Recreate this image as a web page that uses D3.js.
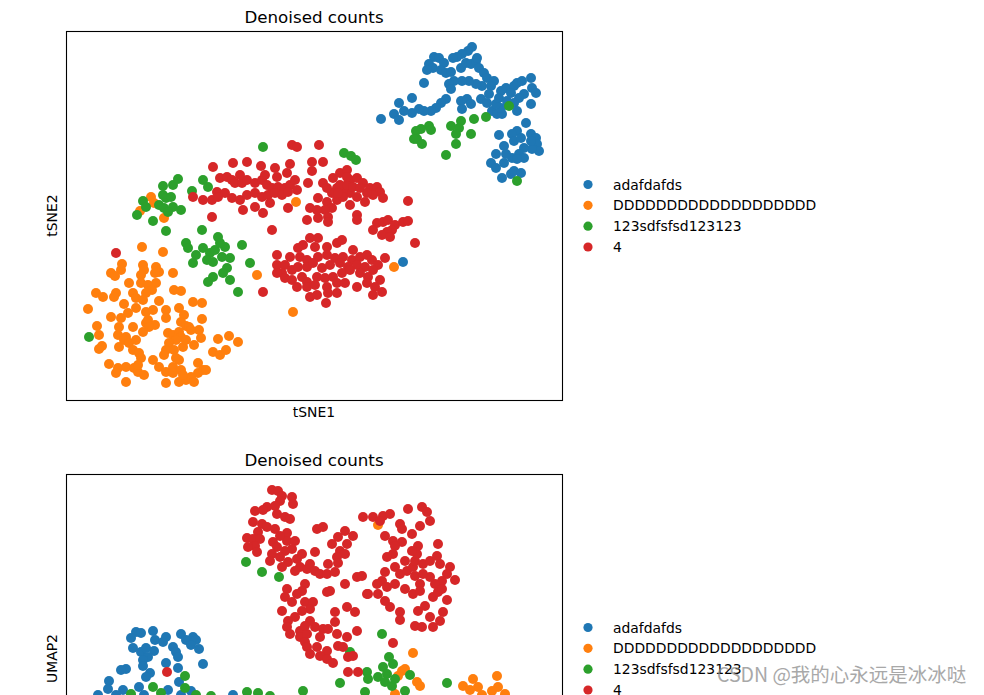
<!DOCTYPE html>
<html>
<head>
<meta charset="utf-8">
<script src="https://cdn.jsdelivr.net/npm/d3@7"></script>
<style>
    body { margin: 0; background: #fff; }
    svg text { font-family: "DejaVu Sans", sans-serif; }
</style>
</head>
<body>
<div id="chart"></div>
<script>
// categories + colours (scanpy default palette)
var categories = ['adafdafds', 'DDDDDDDDDDDDDDDDDDD', '123sdfsfsd123123', '4'];
var colors = ['#1f77b4', '#ff7f0e', '#2ca02c', '#d62728'];

// tSNE coordinates
var tsneAdaf = [[15.8,16.8],[15.4,16.4],[14.8,16.1],[14.3,15.8],[13.9,15.7],[12.0,15.8],[12.5,15.7],[13.0,15.2],[11.5,15.1],[11.9,14.7],[11.3,14.5],[12.7,14.5],[13.2,14.2],[13.7,14.3],[14.7,14.7],[15.2,15.2],[15.7,15.1],[16.2,15.4],[16.3,15.7],[16.5,14.7],[17.0,14.2],[17.3,13.7],[18.0,13.4],[17.7,12.9],[16.8,12.9],[16.2,13.1],[15.5,13.4],[14.8,13.4],[14.0,13.4],[13.5,13.1],[13.7,12.6],[11.0,13.2],[13.2,11.6],[12.7,11.2],[12.2,10.7],[11.7,10.4],[11.0,10.4],[10.5,10.6],[9.8,10.2],[9.0,10.4],[8.5,11.2],[8.0,10.1],[8.5,9.5],[6.7,9.6],[9.8,11.7],[14.7,11.4],[15.3,11.6],[14.8,10.6],[15.7,11.1],[16.7,11.6],[17.3,11.2],[17.8,10.4],[18.3,10.1],[18.8,10.1],[18.7,10.7],[18.2,11.1],[17.5,12.1],[18.7,12.4],[19.2,12.7],[20.0,12.9],[20.3,13.2],[20.8,13.4],[21.7,13.7],[21.8,12.7],[22.2,12.2],[21.0,12.1],[20.5,11.7],[20.0,11.2],[19.7,12.2],[21.7,11.1],[18.5,11.7],[19.3,11.4],[20.3,10.4],
    [21.2,9.2],[20.3,8.4],[19.8,8.1],[18.5,8.0],[19.0,6.9],[20.0,7.4],[20.7,7.7],[21.7,8.1],[22.2,7.7],[22.3,7.1],[22.5,6.4],[21.8,6.6],[21.0,6.7],[20.5,6.1],[21.0,5.7],[19.8,5.7],[19.2,6.1],[18.2,6.1],[17.7,5.2],[18.2,4.7],[18.8,3.7],[19.7,4.1],[20.0,4.4],[20.7,4.2],[19.0,5.2],[20.3,5.6],[21.7,7.4],[8.9,-4.7]];

var tsneD = [[-1.8,1.3],[8.0,-5.2],[-5.7,-6.0],[-2.1,-9.7],[-11.2,-8.8],
    [-16.3,1.8],[-16.0,1.2],[-17.4,0.4],[-15.0,-0.3],[-17.2,-3.2],[-15.1,-3.7],
    [-19.2,-4.9],[-19.3,-5.5],[-20.3,-5.8],[-19.9,-6.1],[-17.1,-5.0],[-17.0,-5.5],[-17.3,-6.0],[-15.8,-5.2],[-15.5,-5.7],[-15.9,-5.8],[-14.1,-5.8],[-18.5,-6.8],[-17.3,-6.8],[-16.6,-7.0],[-15.8,-6.8],[-16.2,-7.5],[-16.8,-7.8],[-21.8,-7.8],[-21.1,-8.2],[-19.8,-7.8],[-20.0,-8.2],[-18.1,-7.8],[-17.8,-8.3],[-17.1,-8.5],[-15.5,-8.6],[-14.0,-7.5],[-13.3,-7.6],[-12.1,-8.7],[-19.0,-8.9],[-22.6,-9.4],[-20.3,-10.2],[-19.3,-10.3],[-18.6,-9.8],[-17.8,-9.3],[-16.8,-9.7],[-16.1,-9.5],[-16.6,-10.5],[-15.9,-11.0],[-14.8,-9.5],[-14.8,-10.3],[-13.5,-9.3],[-13.0,-10.0],[-13.3,-10.7],[-12.8,-11.1],[-12.5,-11.2],[-11.2,-10.4],[-21.7,-11.1],[-21.5,-12.0],[-21.2,-13.1],[-21.5,-13.4],[-19.5,-11.2],[-18.1,-11.2],[-19.6,-12.0],[-18.8,-12.2],[-19.0,-12.5],[-19.5,-13.2],[-18.5,-12.8],[-17.8,-12.5],[-18.1,-13.5],[-17.5,-13.8],[-17.3,-14.3],[-16.8,-10.8],[-16.5,-11.2],[-17.1,-11.7],[-14.6,-11.8],[-14.1,-12.0],[-13.5,-11.7],[-13.3,-12.2],[-13.8,-12.5],[-14.5,-12.8],[-14.8,-13.5],[-15.0,-14.0],[-14.0,-13.5],[-13.1,-13.2],[-12.8,-12.5],[-12.0,-13.0],[-11.5,-11.5],[-11.3,-12.3],[-12.3,-11.5],[-16.1,-14.5],[-15.5,-15.2],[-14.8,-15.7],[-14.1,-15.2],[-14.1,-15.8],[-13.5,-14.5],[-13.3,-15.5],[-13.8,-14.3],[-20.5,-14.9],[-19.6,-15.3],[-19.8,-15.8],[-18.8,-15.2],[-18.8,-16.7],[-18.0,-15.3],[-17.6,-15.7],[-17.0,-16.0],[-17.6,-15.0],[-14.8,-16.8],[-13.5,-16.7],[-12.8,-16.5],[-12.3,-16.2],[-11.6,-15.8],[-11.1,-15.5],[-10.8,-15.5],[-12.0,-16.7],[-13.1,-16.0],[-11.6,-14.8],[-10.1,-13.7],[-9.4,-14.0],[-8.8,-13.5],[-9.6,-12.4],[-8.5,-12.1],[-7.6,-12.7]];

var tsne123 = [[16.0,9.6],[17.2,9.8],[19.5,10.9],[14.7,9.4],[13.7,8.9],[14.5,8.7],[15.7,8.1],[14.2,8.1],[14.2,7.1],[13.2,6.0],[11.5,8.9],[11.7,8.5],[10.7,8.6],[10.2,8.4],[10.3,7.6],[10.8,7.1],[10.0,7.6],[20.3,3.4],[3.0,6.2],[3.7,5.9],[4.2,5.5],
    [-5.1,6.8],[-11.1,3.5],[-10.6,2.8],[-11.2,-1.5],[-9.6,-2.2],[-8.9,-3.2],[-7.2,-3.0],[-11.1,-3.3],[-10.4,-3.8],[-10.7,-4.5],[-9.2,-4.2],[-6.4,-4.8],[-8.7,-5.3],[-9.1,-5.8],[-10.1,-6.2],[-10.6,-6.7],[-8.4,-6.5],[-7.6,-7.7],[-10.1,-4.7],[-9.9,-3.5],[-8.4,-4.3],[-9.4,-2.8],
    [-15.1,2.9],[-14.1,3.0],[-13.6,3.6],[-12.2,2.4],[-17.1,1.4],[-15.1,2.0],[-14.8,1.7],[-14.3,1.8],[-15.5,1.0],[-15.0,0.7],[-14.1,0.8],[-13.3,0.5],[-14.6,0.3],[-17.7,0.0],[-16.1,-0.6],[-14.8,-1.6],[-16.8,0.8],[-12.8,-2.8],[-12.6,-3.3],[-11.8,-4.0],[-12.1,-4.8],[-22.5,-12.2]];

var tsne4 = [[-2.2,7.0],[-1.7,6.8],[0.5,7.0],[-10.1,4.8],[-8.1,5.2],[-6.7,5.3],[-5.3,4.9],[-3.9,4.7],[-2.4,5.1],[-0.2,5.3],[0.9,5.3],[-0.2,4.4],[-9.4,3.7],[-8.7,3.8],[-8.2,3.5],[-7.9,3.2],[-7.2,3.2],[-6.7,3.5],[-5.9,3.2],[-5.2,3.5],[-4.7,3.0],[-4.2,2.7],[-3.6,2.8],[-2.9,2.7],[-2.4,3.0],[-1.7,2.5],[-1.9,3.5],[-2.7,4.2],[-3.7,3.8],[-4.9,4.0],[-7.4,4.0],[-9.7,2.3],[-8.9,2.2],[-8.2,1.7],[-7.4,1.5],[-6.7,2.0],[-5.9,2.2],[-5.2,1.8],[-4.6,2.0],[-3.9,2.2],[-3.2,2.0],[-2.6,2.3],[-11.1,1.5],[-10.2,1.5],[-9.6,1.8],[-7.1,0.5],[-5.9,0.8],[-5.1,0.2],[-4.4,1.2],[-2.6,0.7],[-10.2,-0.2],[-4.2,-1.5],[-0.6,3.2],[-0.4,0.7],[-0.7,-0.5],
    [0.9,3.2],[1.9,3.7],[2.6,4.2],[3.3,4.5],[3.6,3.5],[4.3,3.7],[4.9,3.2],[5.6,2.7],[6.3,2.8],[6.6,2.3],[6.9,1.7],[5.9,2.0],[5.1,1.3],[4.3,1.8],[3.6,2.2],[2.9,2.5],[2.3,2.7],[1.8,2.2],[1.3,2.7],[0.4,1.7],[1.3,1.3],[2.3,1.5],[2.9,1.8],[3.6,1.0],[4.3,0.0],[4.3,-0.5],[1.8,0.7],[1.1,0.5],[1.4,-0.2],[1.4,-0.7],[0.4,-0.3],[0.3,0.5],[2.6,3.0],[3.3,3.0],[3.9,2.8],[5.3,2.2],[2.4,2.2],[9.4,1.4],[3.3,3.8],[4.6,2.7],
    [6.3,-0.8],[6.9,-0.7],[7.4,-0.5],[8.1,-1.0],[7.8,-1.5],[7.3,-1.7],[6.8,-2.0],[5.9,-1.5],[7.6,-2.2],[8.9,-0.7],[9.4,-0.6],[10.1,-2.8],
    [-0.4,-2.3],[0.4,-2.3],[2.3,-2.8],[2.8,-2.5],[-1.1,-3.0],[-1.6,-3.3],[0.1,-3.2],[1.3,-3.2],[3.9,-3.5],[-3.7,-4.0],[-2.4,-4.2],[-1.4,-4.2],[-0.7,-4.5],[0.4,-4.2],[1.3,-4.0],[2.1,-4.3],[2.9,-4.2],[3.8,-4.5],[4.6,-4.2],[5.3,-4.0],[5.8,-4.5],[6.4,-5.0],[7.1,-4.3],[-3.7,-5.0],[-2.9,-5.0],[-3.2,-5.8],[-2.2,-5.5],[-1.6,-5.2],[-0.7,-5.2],[-0.1,-4.8],[0.8,-5.3],[1.6,-5.0],[2.6,-4.8],[3.4,-5.2],[4.3,-5.0],[5.1,-5.2],[5.9,-5.5],[-3.7,-5.8],[-2.9,-6.3],[-2.2,-6.5],[-1.2,-6.2],[-0.7,-6.7],[0.3,-6.2],[1.1,-6.3],[1.9,-6.2],[2.8,-5.8],[3.6,-5.5],[4.6,-5.8],[5.4,-6.2],[6.6,-6.5],[-1.7,-7.2],[-0.7,-7.2],[0.1,-7.0],[1.3,-7.2],[2.3,-6.8],[3.1,-6.8],[5.3,-6.8],[6.1,-7.2],[6.8,-7.7],[-5.1,-7.7],[-0.4,-8.2],[0.3,-8.0],[1.4,-7.8],[2.3,-7.8],[5.9,-8.0],[1.2,-8.8],[4.3,-7.2],
    [-19.8,-3.8],[-12.1,1.8]];

// UMAP coordinates (lower half of the panel is cut off)
var umapAdaf = [[-17.8,2.6],[-17.3,2.5],[-18.3,2.0],[-16.1,2.7],[-15.9,1.8],[-15.1,1.6],[-14.8,2.1],[-13.3,2.4],[-12.1,2.1],[-11.8,1.8],[-12.8,1.8],[-12.3,1.3],[-11.5,0.9],[-18.1,1.0],[-17.3,0.6],[-16.8,1.0],[-16.0,0.7],[-16.6,0.1],[-17.1,-0.2],[-14.1,1.1],[-13.8,0.6],[-13.6,0.1],[-14.8,-0.5],[-13.6,-1.0],[-11.1,-0.6],[-17.1,-0.8],[-18.8,-1.1],[-19.3,-1.2],[-16.4,-1.5],[-16.8,-1.9],[-20.5,-2.3],[-20.6,-3.1],[-19.1,-3.2],[-21.6,-3.7],[-13.5,-2.4],[-14.6,-3.2],[-12.3,-3.3],[-17.5,-2.9],[-17.0,-3.7],[-19.8,-3.7],[-13.3,-3.7],[-8.1,-3.7]];

var umapD = [[6.4,13.3],[9.9,0.5],[8.8,-1.3],[9.1,-1.1],[8.4,-1.8],[10.3,-2.4],[10.6,-2.8],[14.9,-2.8],[8.1,-3.6],
    [15.9,-2.1],[16.4,-2.9],[15.6,-3.2],[18.3,-1.8],[18.4,-2.9],[17.8,-3.3],[19.1,-3.6],[16.8,-3.7]];

var umap123 = [[-6.8,9.6],[-5.2,8.6],[-3.5,8.1],[6.8,2.4],[7.5,0.1],[7.9,-0.6],[6.9,-0.9],[7.3,-1.6],[6.4,-1.9],[7.1,-2.4],[7.8,-2.8],[8.1,-2.1],[5.3,-1.4],[5.4,-2.1],[9.6,-1.7],[9.1,-3.3],[2.6,-2.5],[-1.1,-3.3],[13.3,-2.5],[3.6,0.6],[5.1,-3.4],[-6.7,-3.4],[-5.6,-3.5],[-4.4,-3.8],
    [-12.9,-1.8],[-16.1,-2.9],[-12.9,-3.0],[-18.3,-3.6],[-15.3,-3.5],[-10.3,-3.8],[-11.8,-3.7]];

var umap4 = [[-4.2,16.8],[-3.6,16.7],[-3.2,16.2],[-3.4,15.7],[-2.2,16.1],[-2.1,15.4],[-4.7,15.1],[-3.9,15.2],[-3.7,14.4],[-2.9,14.1],[-2.4,13.9],[-5.9,14.7],[-5.1,14.8],[-6.1,13.6],[-5.2,13.4],[-4.7,13.1],[-3.9,12.9],[-2.7,12.5],[-5.6,12.6],[-6.7,12.0],[-6.1,11.9],[-5.4,11.9],[-5.9,11.2],[-6.6,11.1],[-5.7,10.6],[-4.1,11.6],[-3.7,11.1],[-4.2,10.4],[-4.4,9.7],[-2.7,11.7],[-1.9,11.7],[-2.2,10.9],[-2.9,10.7],[-3.4,10.1],[-2.6,9.6],[-1.7,9.9],[-1.2,10.4],[-1.4,9.1],[-1.9,8.7],[-0.7,8.9],[-0.4,9.4],[0.1,8.7],[0.6,8.4],[1.3,8.4],[2.1,8.6],[0.1,10.6],[0.3,12.9],[0.9,13.1],[1.8,11.4],[2.4,12.1],[3.1,12.7],[3.9,12.2],[3.3,11.4],[2.6,10.7],[3.1,10.4],[2.3,10.1],[2.4,9.5],[1.4,9.4],[-3.4,12.2],[-3.2,9.1],
    [-0.9,7.4],[-1.2,6.7],[-2.7,6.9],[-2.9,6.1],[-2.2,5.6],[-3.2,4.7],[-1.7,6.4],[-0.9,5.6],[-0.1,5.6],[-0.4,4.9],[-1.2,4.7],[-1.9,4.1],[-2.6,3.7],[-2.7,3.1],[-2.4,2.4],[-1.4,2.7],[-1.4,2.1],[-0.7,2.4],[-0.9,1.6],[-0.7,1.1],[-0.4,0.4],[0.3,1.1],[0.6,2.1],[0.1,3.1],[-0.4,3.7],[-0.9,3.2],[0.9,2.9],[1.4,2.9],[2.1,3.6],[2.3,2.4],[2.4,1.2],[1.3,0.7],[0.6,0.2],[1.3,-0.1],[1.9,-0.5],[2.9,1.1],[3.3,2.1],[3.4,0.1],[3.9,0.2],[2.1,4.6],[3.3,5.1],[4.1,4.6],[4.3,2.7],[1.3,6.6],[1.6,6.7],[3.1,7.4],[4.3,8.1],[4.8,8.2],[5.3,6.4],[3.4,-1.4],[4.4,-1.4],[7.9,1.5],
    [4.9,14.1],[5.9,14.1],[6.9,14.2],[7.6,14.4],[6.6,13.7],[8.6,13.4],[8.8,12.9],[9.4,14.9],[9.8,12.4],[7.1,12.2],[7.9,11.7],[8.8,11.6],[8.1,11.2],[9.1,9.7],[7.9,10.4],[7.3,10.1],[8.1,9.1],[7.1,8.6],[6.8,7.7],[6.3,7.4],[7.3,7.1],[8.1,7.4],[9.1,6.9],[8.6,8.4],[9.3,8.7],[9.9,9.1],[10.1,9.7],[10.3,10.4],[10.4,11.2],[9.8,10.7],[10.8,15.1],[11.3,14.6],[11.6,13.7],[10.6,13.2],[10.9,9.4],[11.6,9.7],[12.3,10.2],[12.4,11.4],[12.6,9.4],[13.6,9.1],[14.1,7.8],[13.3,8.4],[12.8,7.7],[12.1,7.4],[11.6,8.1],[10.6,7.4],[10.1,8.2],[10.9,8.4],[9.9,6.4],[10.6,6.7],[11.9,6.1],[12.4,6.6],[13.3,5.8],[12.8,6.9],[11.1,5.2],[10.4,4.7],[10.1,3.2],[10.8,3.1],[11.9,3.1],[11.6,4.1],[12.6,3.7],[12.9,4.6],[8.6,4.6],[8.6,3.8],[7.6,5.1],[7.1,5.7],[6.4,6.4],[5.4,6.4],
    [-14.7,-1.4]];

function drawPanel(svg, opts) {
    // frame sits at x 66..562, height 369 px
    var x = d3.scaleLinear().domain([-24.8, 24.8]).range([66, 562]);
    var y = d3.scaleLinear().domain([-18.5, 18.4]).range([opts.top + 369, opts.top]);

    var g = svg.append('g').attr('class', 'panel');

    g.append('text')
        .attr('x', 314)
        .attr('y', opts.top - 8)
        .attr('text-anchor', 'middle')
        .attr('font-size', '16.7px')
        .text('Denoised counts');

    var dots = g.append('g');
    opts.series.forEach(function (s, i) {
        dots.selectAll('circle.c' + i)
            .data(s)
            .enter()
            .append('circle')
            .attr('class', 'c' + i)
            .attr('cx', function (d) { return x(d[0]); })
            .attr('cy', function (d) { return y(d[1]); })
            .attr('r', 5)
            .style('fill', colors[i]);
    });

    g.append('rect')
        .attr('x', 66.5)
        .attr('y', opts.top + 0.5)
        .attr('width', 496)
        .attr('height', 369)
        .style('fill', 'none')
        .style('stroke', 'black')
        .style('stroke-width', '1.1px');

    // the lower panel's x label falls below the window, so only the top one is drawn
    if (opts.xlabel) {
        g.append('text')
            .attr('x', 314)
            .attr('y', opts.top + 369 + 17)
            .attr('text-anchor', 'middle')
            .attr('font-size', '13.9px')
            .text(opts.xlabel);
    }

    g.append('text')
        .attr('transform', 'translate(57,' + (opts.top + 184.5) + ') rotate(-90)')
        .attr('text-anchor', 'middle')
        .attr('font-size', '13.9px')
        .text(opts.ylabel);

    // legend
    var legendY = d3.scalePoint().domain(categories).range([opts.top + 153.5, opts.top + 216]);
    var lg = g.append('g');
    lg.selectAll('circle')
        .data(categories)
        .enter()
        .append('circle')
        .attr('cx', 588)
        .attr('cy', function (d) { return legendY(d); })
        .attr('r', 4.6)
        .style('fill', function (d, i) { return colors[i]; });
    lg.selectAll('text')
        .data(categories)
        .enter()
        .append('text')
        .attr('x', 613)
        .attr('y', function (d) { return legendY(d); })
        .attr('dy', '0.36em')
        .attr('font-size', '13.9px')
        .text(function (d) { return d; });
}

var svg = d3.select('#chart').append('svg')
    .attr('width', 984)
    .attr('height', 695);

drawPanel(svg, {top: 31, series: [tsneAdaf, tsneD, tsne123, tsne4], xlabel: 'tSNE1', ylabel: 'tSNE2'});
drawPanel(svg, {top: 474, series: [umapAdaf, umapD, umap123, umap4], xlabel: null, ylabel: 'UMAP2'});

// watermark
svg.append('text')
    .attr('x', 717)
    .attr('y', 682)
    .attr('font-size', '19.5px')
    .style('font-family', '"Noto Sans CJK SC", "DejaVu Sans", sans-serif')
    .style('fill', '#8c8c8c')
    .style('opacity', 0.75)
    .text('CSDN @我的心永远是冰冰哒');
</script>
</body>
</html>
